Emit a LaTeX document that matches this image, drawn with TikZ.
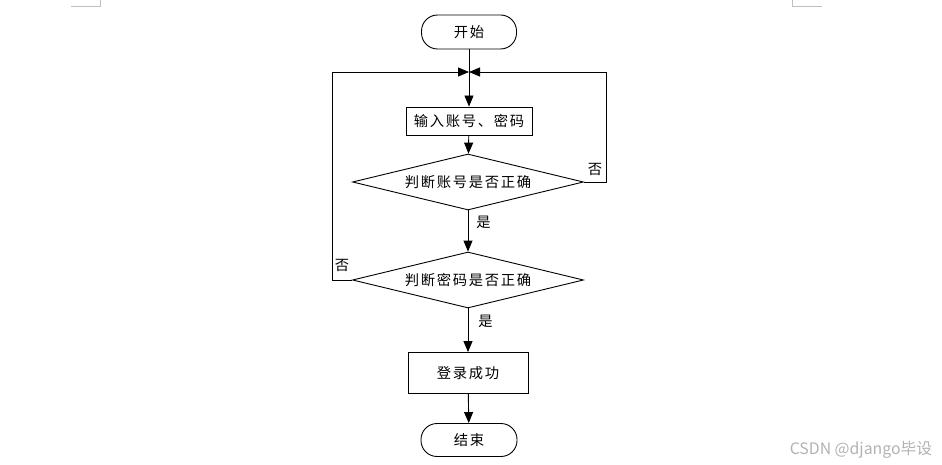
\documentclass[tikz,border=0pt]{standalone}
\usepackage{fontspec}
\setmainfont{Noto Sans CJK SC}[LetterSpace=12]
\newfontfamily\markfont{Noto Sans CJK SC}
\usetikzlibrary{arrows.meta}
\usetikzlibrary{shapes.geometric}

\tikzset{
    term/.style={draw, rounded corners=16pt, minimum width=95pt, minimum height=34pt, inner sep=0pt},
    proc/.style={draw, inner sep=0pt},
    decide/.style={draw, diamond, aspect=4, minimum width=231pt, minimum height=56pt, inner sep=0pt},
    flow/.style={-{Triangle[length=11pt,width=9pt]}},
    lbl/.style={inner sep=1pt},
}

\begin{document}
\begin{tikzpicture}[x=1pt, y=-1pt, line width=0.9pt, font=\fontsize{14.3}{16}\selectfont]
    \useasboundingbox (0,0) rectangle (942,465);
    % page corner marks
    \draw [line width=0.6pt, black!25] (71,6) -- (100,6) -- (100,0);
    \draw [line width=0.6pt, black!25] (822,6) -- (792,6) -- (792,0);

    \node [term] (start) at (469,32) {开始};
    \coordinate (join) at (469,72);
    \node [proc, minimum width=126pt, minimum height=28pt] (input) at (469,121) {输入账号、密码};
    \node [decide] (chkuser) at (468,182) {判断账号是否正确};
    \node [decide] (chkpass) at (468,280) {判断密码是否正确};
    \node [proc, minimum width=120pt, minimum height=41pt] (ok) at (468,373) {登录成功};
    \node [term, minimum width=96pt, minimum height=33pt] (stop) at (469,440) {结束};

    \draw [flow] (start) -- (input);
    \draw [flow] (input) -- (chkuser);
    \draw [flow] (chkuser) -- node [lbl, right=7pt, pos=0.28] (yes1) {是} (chkpass);
    \draw [flow] (chkpass) -- node [lbl, right=9pt, pos=0.3] (yes2) {是} (ok);
    \draw [flow] (ok) -- (stop);

    % loops back when a check fails
    \draw [flow] (chkuser.east) -- node [lbl, above=5pt] (no1) {否} ++(22,0) |- (join);
    \draw [flow] (chkpass.west) -- node [lbl, above=7pt] (no2) {否} ++(-20,0) |- (join);

    \node [text=black!30, font=\markfont\fontsize{15.8}{18}\selectfont, inner sep=0pt] (mark) at (861,450) {CSDN @django毕设};
\end{tikzpicture}
\end{document}
